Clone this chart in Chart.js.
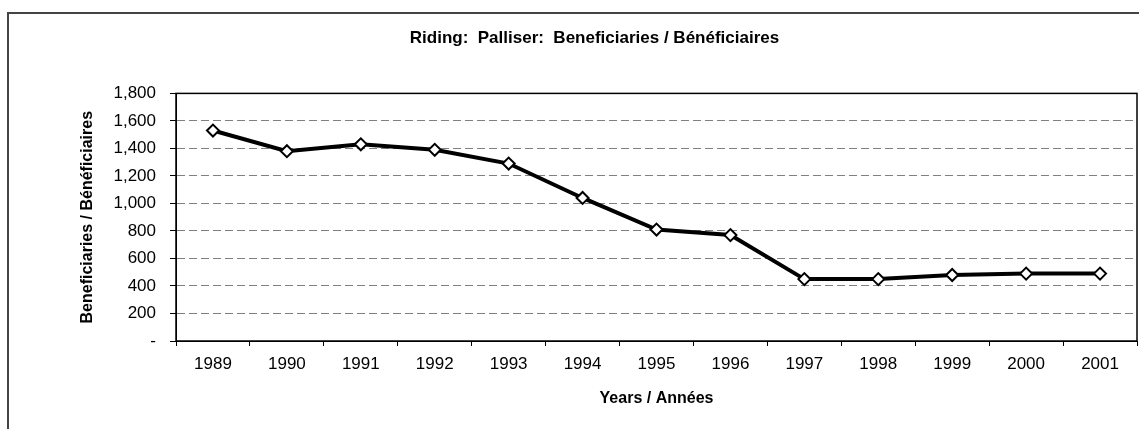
<!DOCTYPE html>
<html>
<head>
<meta charset="utf-8">
<script src="https://cdn.jsdelivr.net/npm/chart.js@4/dist/chart.umd.min.js"></script>
<style>
  html, body { margin: 0; padding: 0; background: #fff; overflow: hidden; }
  #wrap { width: 1139px; height: 429px; }
  canvas { display: block; }
</style>
</head>
<body>
<div id="wrap"><canvas id="chart" width="1139" height="429"></canvas></div>
<script>
const years = ['1989', '1990', '1991', '1992', '1993', '1994', '1995', '1996', '1997', '1998', '1999', '2000', '2001'];
const beneficiaries = [1530, 1380, 1430, 1390, 1290, 1040, 810, 770, 450, 450, 480, 490, 490];
const yMin = 0;
const yMax = 1800;
const yStep = 200;

const narrowBold = { family: "'Liberation Sans Narrow', 'Liberation Sans', Arial, sans-serif", size: 16, weight: 'bold' };
const tickFont = { family: "'Liberation Sans', Arial, sans-serif", size: 17 };

// outer frame + solid box around the plot area
const framePlugin = {
  id: 'frame',
  beforeDraw(chart) {
    const ctx = chart.ctx;
    ctx.save();
    ctx.fillStyle = '#fff';
    ctx.fillRect(0, 0, chart.width, chart.height);
    ctx.strokeStyle = '#444';
    ctx.lineWidth = 2;
    ctx.strokeRect(8, 13, chart.width + 20, chart.height + 20);
    ctx.restore();
  },
  beforeDatasetsDraw(chart) {
    const a = chart.chartArea;
    const ctx = chart.ctx;
    ctx.save();
    ctx.strokeStyle = '#000';
    ctx.lineWidth = 1.5;
    ctx.strokeRect(a.left, a.top, a.right - a.left, a.bottom - a.top);
    ctx.restore();
  }
};

new Chart(document.getElementById('chart'), {
  type: 'line',
  data: {
    labels: years,
    datasets: [
      {
        label: 'Beneficiaries / Bénéficiaires',
        data: beneficiaries,
        borderColor: '#000',
        borderWidth: 4,
        pointStyle: 'rectRot',
        pointRadius: 6,
        pointBorderWidth: 2,
        pointBackgroundColor: '#fff',
        pointBorderColor: '#000',
        tension: 0
      }
    ]
  },
  options: {
    responsive: false,
    animation: false,
    layout: {
      autoPadding: false,
      padding: { left: 52, right: 2, top: 0, bottom: 0 }
    },
    plugins: {
      legend: { display: false },
      tooltip: { enabled: false },
      title: {
        display: true,
        text: 'Riding:  Palliser:  Beneficiaries / Bénéficiaires',
        color: '#000',
        font: Object.assign({}, narrowBold, { size: 17 }),
        padding: { top: 28, bottom: 45 }
      }
    },
    scales: {
      x: {
        offset: true,
        afterFit(scale) { scale.height = 88; },
        grid: {
          offset: true,
          drawOnChartArea: false,
          drawTicks: true,
          tickLength: 5,
          tickColor: '#000'
        },
        border: { color: '#000', width: 1 },
        ticks: { color: '#000', font: tickFont, padding: 8, maxRotation: 0 },
        title: {
          display: true,
          text: 'Years / Années',
          color: '#000',
          font: narrowBold,
          padding: { top: 0, bottom: 21 }
        }
      },
      y: {
        min: yMin,
        max: yMax,
        afterFit(scale) { scale.width = 124; },
        grid: {
          color: '#808080',
          lineWidth: 1,
          drawTicks: true,
          tickLength: 6,
          tickColor: '#000',
          tickBorderDash: []
        },
        border: { color: '#000', width: 1, dash: [8, 4] },
        ticks: {
          stepSize: yStep,
          color: '#000',
          font: tickFont,
          padding: 14,
          callback: v => v === 0 ? '-' : v.toLocaleString('en-US')
        },
        title: {
          display: true,
          text: 'Beneficiaries / Bénéficiaires',
          color: '#000',
          font: narrowBold,
          padding: { top: 26, bottom: 0 }
        }
      }
    }
  },
  plugins: [framePlugin]
});
</script>
</body>
</html>
